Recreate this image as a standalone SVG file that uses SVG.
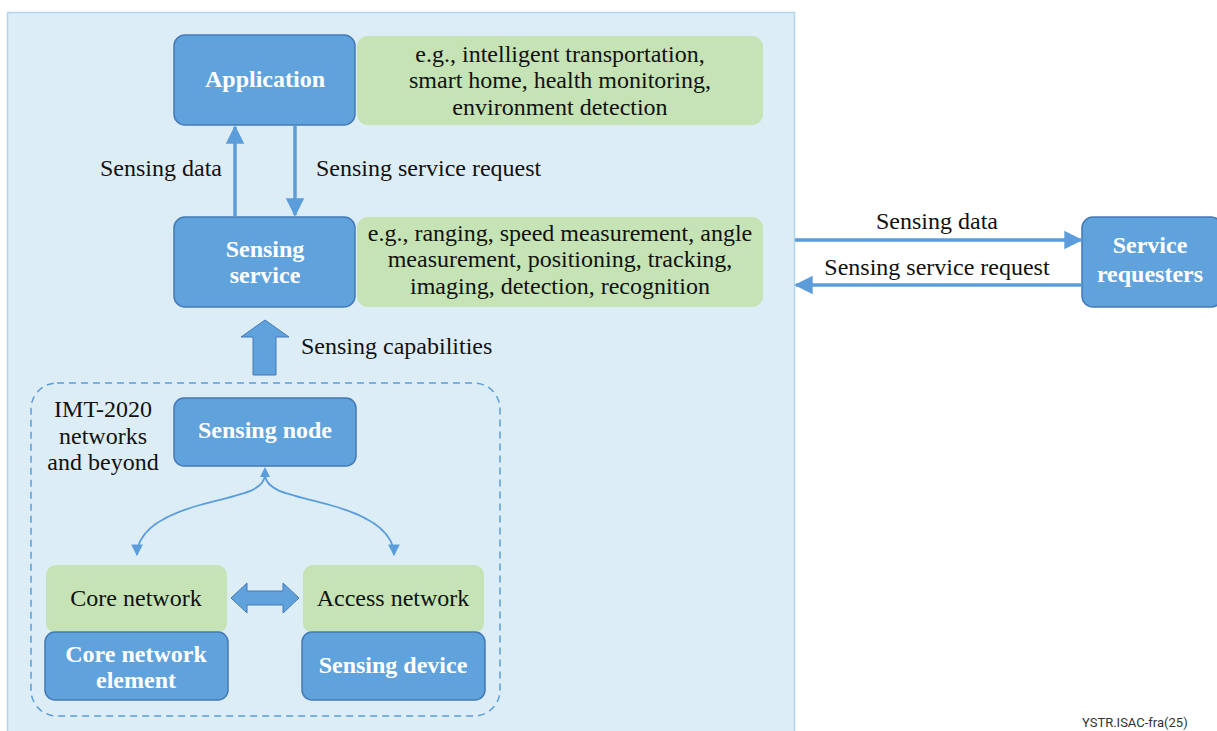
<svg xmlns="http://www.w3.org/2000/svg" width="1217" height="731" viewBox="0 0 1217 731">
<style>
.t{font-family:"Liberation Serif","Times New Roman",serif;font-size:24px;fill:#111}
.b{font-family:"Liberation Serif","Times New Roman",serif;font-size:24px;font-weight:bold;fill:#fff}
.blue{fill:#5fa2dc;stroke:#4479b6;stroke-width:1.5}
.green{fill:#c5e3b4}
.ln{stroke:#5b9ddb;stroke-width:3.5;fill:none}
.thin{stroke:#5b9ddb;stroke-width:1.8;fill:none}
</style>
<defs>
<marker id="ah" viewBox="0 0 10 10" refX="9" refY="5" markerWidth="5.3" markerHeight="5.5" orient="auto" markerUnits="strokeWidth"><path d="M0,0 L10,5 L0,10 z" fill="#5b9ddb"/></marker>
<marker id="as" viewBox="0 0 10 10" refX="9" refY="5" markerWidth="6.5" markerHeight="6.5" orient="auto" markerUnits="strokeWidth"><path d="M0,0 L10,5 L0,10 z" fill="#5b9ddb"/></marker>
</defs>
<rect width="1217" height="731" fill="#fff"/>
<rect id="panel" x="7.5" y="12.5" width="787" height="730" fill="#ddedf6" stroke="#b3d6ec" stroke-width="1.5"/>
<rect id="imt-container" x="31" y="383" width="469" height="333" rx="26" fill="none" stroke="#5b9ddb" stroke-width="1.5" stroke-dasharray="7,5"/>

<g id="application"><rect class="blue" x="174" y="35" width="181" height="90" rx="11"/><text class="b" x="265" y="87" text-anchor="middle">Application</text></g>
<g id="app-examples"><rect class="green" x="357" y="36" width="406" height="89" rx="11"/>
<text class="t" text-anchor="middle"><tspan x="560" y="62">e.g., intelligent transportation,</tspan><tspan x="560" y="88">smart home, health monitoring,</tspan><tspan x="560" y="115">environment detection</tspan></text></g>

<g id="sensing-service"><rect class="blue" x="174" y="217" width="181" height="90" rx="11"/><text class="b" x="265" y="257" text-anchor="middle">Sensing</text><text class="b" x="265" y="283" text-anchor="middle">service</text></g>
<g id="service-examples"><rect class="green" x="357" y="217" width="406" height="90" rx="11"/>
<text class="t" text-anchor="middle"><tspan x="560" y="241">e.g., ranging, speed measurement, angle</tspan><tspan x="560" y="267">measurement, positioning, tracking,</tspan><tspan x="560" y="294">imaging, detection, recognition</tspan></text></g>

<g id="service-requesters"><rect class="blue" x="1082" y="217" width="140" height="90" rx="11"/><text class="b" x="1150" y="253" text-anchor="middle">Service</text><text class="b" x="1150" y="282" text-anchor="middle">requesters</text></g>

<g id="imt-label"><text class="t" text-anchor="middle"><tspan x="103" y="417">IMT-2020</tspan><tspan x="103" y="444">networks</tspan><tspan x="103" y="470">and beyond</tspan></text></g>

<g id="sensing-node"><rect class="blue" x="174" y="398" width="182" height="68" rx="10"/><text class="b" x="265" y="438" text-anchor="middle">Sensing node</text></g>

<g id="core-network"><rect class="green" x="46" y="565" width="181" height="68" rx="10"/><text class="t" x="136" y="606" text-anchor="middle">Core network</text></g>
<g id="core-network-element"><rect class="blue" x="45" y="632" width="183" height="68" rx="10"/><text class="b" x="136" y="662" text-anchor="middle">Core network</text><text class="b" x="136" y="688" text-anchor="middle">element</text></g>
<g id="access-network"><rect class="green" x="303" y="565" width="181" height="68" rx="10"/><text class="t" x="393" y="606" text-anchor="middle">Access network</text></g>
<g id="sensing-device"><rect class="blue" x="302" y="632" width="183" height="68" rx="10"/><text class="b" x="393" y="673" text-anchor="middle">Sensing device</text></g>

<g id="connectors">
<line class="ln" x1="235" y1="216" x2="235" y2="127" marker-end="url(#ah)"/>
<line class="ln" x1="295" y1="126" x2="295" y2="215" marker-end="url(#ah)"/>
<line class="ln" x1="795" y1="240" x2="1081" y2="240" marker-end="url(#ah)"/>
<line class="ln" x1="1082" y1="285" x2="796" y2="285" marker-end="url(#ah)"/>
<path d="M253,375 L253,337 L241,337 L265,320 L289,337 L276,337 L276,375 Z" fill="#5fa2dc" stroke="#4479b6" stroke-width="1"/>
<path d="M231,598 L247,583 L247,591 L283,591 L283,583 L299,598 L283,613 L283,605 L247,605 L247,613 Z" fill="#5fa2dc" stroke="#4479b6" stroke-width="1"/>
<path class="thin" d="M265,476 C262,492 240,494 200,505 C160,516 137,532 137,555" marker-end="url(#as)"/>
<path class="thin" d="M265,476 C268,492 290,494 330,505 C370,516 394,532 394,555" marker-end="url(#as)"/>
<path d="M265,467 L260,477 L270,477 Z" fill="#5b9ddb"/>
</g>

<g id="labels">
<text class="t" x="222" y="176" text-anchor="end">Sensing data</text>
<text class="t" x="316" y="176">Sensing service request</text>
<text class="t" x="301" y="354">Sensing capabilities</text>
<text class="t" x="937" y="229" text-anchor="middle">Sensing data</text>
<text class="t" x="937" y="275" text-anchor="middle">Sensing service request</text>
<text x="1082" y="727" style="font-family:Roboto,'Liberation Sans',sans-serif;font-size:13px;fill:#333">YSTR.ISAC-fra(25)</text>
</g>
</svg>
